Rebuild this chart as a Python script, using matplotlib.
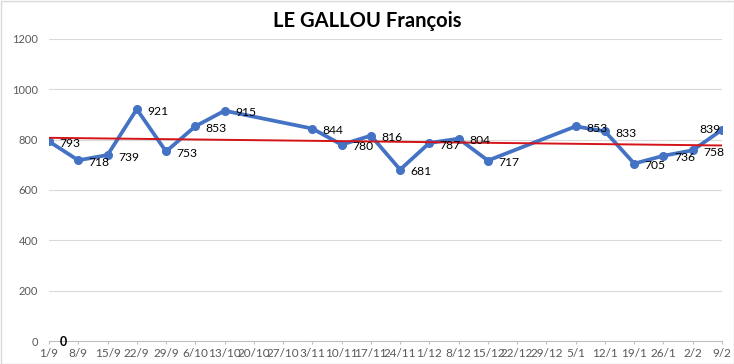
import numpy as np
import matplotlib
matplotlib.use("Agg")
import matplotlib.pyplot as plt
from matplotlib.patches import Rectangle

plt.rcParams['font.family'] = ['Lato', 'DejaVu Sans']

# weekly dates and scores (None = no match that week)
dates = ['1/9', '8/9', '15/9', '22/9', '29/9', '6/10', '13/10', '20/10', '27/10',
         '3/11', '10/11', '17/11', '24/11', '1/12', '8/12', '15/12', '22/12', '29/12',
         '5/1', '12/1', '19/1', '26/1', '2/2', '9/2']
scores = [793, 718, 739, 921, 753, 853, 915, None, None,
          844, 780, 816, 681, 787, 804, 717, None, None,
          853, 833, 705, 736, 758, 839]
title = 'LE GALLOU François'

blue = '#4472C4'
grey = '#595959'

x = np.array([i for i, s in enumerate(scores) if s is not None])
y = np.array([s for s in scores if s is not None], dtype=float)

fig = plt.figure(figsize=(7.34, 3.64), dpi=100)
ax = fig.add_axes([49 / 734, 23 / 364, 673 / 734, 302 / 364])

# horizontal grid
for v in range(200, 1400, 200):
    ax.axhline(v, color='#D9D9D9', lw=0.8, zorder=0)

ax.plot(x, y, color=blue, lw=2.7, marker='o', ms=5.5, zorder=3, solid_joinstyle='round')

# linear trend line
a, b = np.polyfit(x, y, 1)
xt = np.array([0, len(dates) - 1])
ax.plot(xt, a * xt + b, color='#D41418', lw=1.4, zorder=4)

for i, (xi, yi) in enumerate(zip(x, y)):
    if i == len(x) - 1:
        ax.annotate(f'{int(yi)}', (xi, yi), xytext=(-1, 0), textcoords='offset points',
                    ha='right', va='center', fontsize=8.7, color='black', zorder=5)
    else:
        ax.annotate(f'{int(yi)}', (xi, yi), xytext=(7.5, -1.5), textcoords='offset points',
                    ha='left', va='center', fontsize=8.7, color='black', zorder=5)

# stray zero label near the axis
ax.text(0.5, -4, '0', ha='center', va='center', fontsize=9, fontweight='bold', color='black')

ax.set_xlim(0, len(dates) - 1)
ax.set_ylim(0, 1200)
ax.set_xticks(range(len(dates)))
ax.set_xticklabels(dates, fontsize=8.5, color=grey)
ax.set_yticks(range(0, 1400, 200))
ax.set_yticklabels([str(v) for v in range(0, 1400, 200)], fontsize=8, color=grey)

for s in ['top', 'right', 'left']:
    ax.spines[s].set_visible(False)
ax.spines['bottom'].set_color('#BFBFBF')
ax.tick_params(axis='x', length=2.5, color='#BFBFBF', pad=2.5)
ax.tick_params(axis='y', length=0, pad=8)

fig.text(0.5, 0.915, title, ha='center', va='bottom', fontsize=14.5, fontweight='bold')

fig.patches.append(Rectangle((0.5 / 734, 0.5 / 364), 733 / 734, 363 / 364, transform=fig.transFigure,
                             fill=False, edgecolor='#D9D9D9', lw=1))

fig.savefig('out.png', dpi=100)
